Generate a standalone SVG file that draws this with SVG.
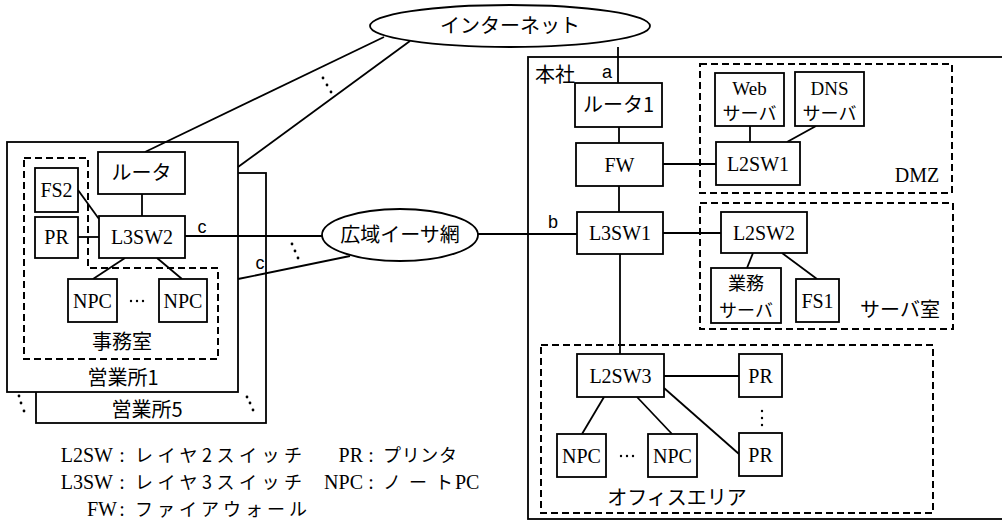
<svg xmlns="http://www.w3.org/2000/svg" width="1002" height="524" viewBox="0 0 1002 524">
<style>
.bx{fill:#fff;stroke:#000;stroke-width:1.8}
.area{fill:none;stroke:#000;stroke-width:2;stroke-dasharray:7 4}
.ln{stroke:#000;stroke-width:1.8;fill:none}
.t{font-family:"Liberation Serif","Noto Sans CJK JP",serif;font-size:20px;fill:#000;text-anchor:middle}
.j{font-family:"Noto Sans CJK JP","Liberation Serif",sans-serif;font-size:20px;fill:#000;text-anchor:middle}
.j2{font-family:"Noto Sans CJK JP","Liberation Serif",sans-serif;font-size:18px;fill:#000;text-anchor:middle}
.s{font-family:"Liberation Sans","Noto Sans CJK JP",sans-serif;font-size:18px;fill:#000;text-anchor:middle}
.lg{font-family:"Liberation Serif","Noto Sans CJK JP",serif;font-size:20px;fill:#000}
.lj{font-family:"Noto Sans CJK JP","Liberation Serif",sans-serif;font-size:18px;fill:#000}
.d{fill:#000}
</style>

<!-- sites -->
<g id="eigyo5"><rect class="bx" x="36" y="173" width="230" height="250"/><text class="j" x="147" y="417">営業所5</text></g>
<g id="eigyo1"><rect class="bx" x="7" y="142" width="231" height="250"/><text class="j" x="123" y="385">営業所1</text></g>
<g id="honsha"><rect class="bx" x="528" y="57" width="490" height="462"/><text class="j" x="555" y="82">本社</text></g>

<!-- areas -->
<g id="jimushitsu"><path class="area" d="M24,158 H88 V268 H218 V359 H24 Z"/><text class="j" x="122" y="349">事務室</text></g>
<g id="dmz"><rect class="area" x="700" y="64" width="252" height="129"/><text class="t" x="917" y="182">DMZ</text></g>
<g id="serverroom"><rect class="area" x="700" y="203" width="253" height="126"/><text class="j" x="900" y="317">サーバ室</text></g>
<g id="officearea"><rect class="area" x="541" y="345" width="392" height="168"/><text class="j" x="677" y="505">オフィスエリア</text></g>

<!-- connectors -->
<g id="connectors">
<line class="ln" x1="142" y1="194" x2="142" y2="216"/>
<line class="ln" x1="78" y1="190" x2="99" y2="219"/>
<line class="ln" x1="78" y1="237" x2="99" y2="237"/>
<line class="ln" x1="125" y1="258" x2="93" y2="279"/>
<line class="ln" x1="157" y1="258" x2="182" y2="279"/>
<line class="ln" x1="185" y1="236" x2="322" y2="236"/>
<line class="ln" x1="238" y1="279" x2="350" y2="256"/>
<line class="ln" x1="145" y1="152" x2="384" y2="37"/>
<line class="ln" x1="238" y1="167" x2="410" y2="41"/>
<line class="ln" x1="618" y1="47" x2="618" y2="83"/>
<line class="ln" x1="478" y1="234" x2="577" y2="234"/>
<line class="ln" x1="619" y1="127" x2="619" y2="143"/>
<line class="ln" x1="619" y1="186" x2="619" y2="212"/>
<line class="ln" x1="663" y1="164" x2="716" y2="164"/>
<line class="ln" x1="750" y1="126" x2="750" y2="142"/>
<line class="ln" x1="816" y1="126" x2="787" y2="142"/>
<line class="ln" x1="663" y1="233" x2="721" y2="233"/>
<line class="ln" x1="753" y1="253" x2="747" y2="268"/>
<line class="ln" x1="782" y1="253" x2="817" y2="279"/>
<line class="ln" x1="620" y1="254" x2="620" y2="354"/>
<line class="ln" x1="664" y1="376" x2="739" y2="376"/>
<line class="ln" x1="664" y1="388" x2="739" y2="454"/>
<line class="ln" x1="604" y1="397" x2="582" y2="434"/>
<line class="ln" x1="637" y1="397" x2="672" y2="434"/>
<g class="d">
<circle cx="323" cy="78" r="1.4"/><circle cx="327" cy="85" r="1.4"/><circle cx="331" cy="92" r="1.4"/>
<circle cx="292" cy="244" r="1.4"/><circle cx="295" cy="251" r="1.4"/><circle cx="298" cy="258" r="1.4"/>
<circle cx="19" cy="396" r="1.4"/><circle cx="21" cy="403" r="1.4"/><circle cx="24" cy="411" r="1.4"/>
<circle cx="247" cy="397" r="1.4"/><circle cx="250" cy="403" r="1.4"/><circle cx="253" cy="410" r="1.4"/>
<circle cx="131" cy="301" r="1.2"/><circle cx="137" cy="301" r="1.2"/><circle cx="143" cy="301" r="1.2"/>
<circle cx="621" cy="456" r="1.2"/><circle cx="627" cy="456" r="1.2"/><circle cx="633" cy="456" r="1.2"/>
<circle cx="762" cy="411" r="1.2"/><circle cx="762" cy="418" r="1.2"/><circle cx="762" cy="425" r="1.2"/>
</g>
<text class="s" x="202" y="233">c</text>
<text class="s" x="260" y="269">c</text>
<text class="s" x="607" y="78">a</text>
<text class="s" x="553" y="228">b</text>
</g>

<!-- clouds -->
<g id="internet"><ellipse class="bx" cx="510" cy="26" rx="140" ry="21"/><text class="j" x="510" y="33">インターネット</text></g>
<g id="wan"><ellipse class="bx" cx="400" cy="235" rx="78" ry="26"/><text class="j" x="400" y="242">広域イーサ網</text></g>

<!-- branch nodes -->
<g id="router"><rect class="bx" x="98" y="152" width="87" height="42"/><text class="j" x="141.5" y="180">ルータ</text></g>
<g id="fs2"><rect class="bx" x="35" y="168" width="43" height="44"/><text class="t" x="56.5" y="197">FS2</text></g>
<g id="pr-b"><rect class="bx" x="35" y="217" width="43" height="41"/><text class="t" x="56.5" y="244">PR</text></g>
<g id="l3sw2"><rect class="bx" x="99" y="216" width="86" height="42"/><text class="t" x="142" y="244">L3SW2</text></g>
<g id="npc-b1"><rect class="bx" x="68" y="279" width="49" height="43"/><text class="t" x="92.5" y="307.5">NPC</text></g>
<g id="npc-b2"><rect class="bx" x="159" y="279" width="48" height="43"/><text class="t" x="183" y="307.5">NPC</text></g>

<!-- HQ nodes -->
<g id="router1"><rect class="bx" x="575" y="83" width="87" height="44"/><text class="j" x="618.5" y="112">ルータ1</text></g>
<g id="fw"><rect class="bx" x="576" y="143" width="87" height="43"/><text class="t" x="619.5" y="171.5">FW</text></g>
<g id="l3sw1"><rect class="bx" x="577" y="212" width="86" height="42"/><text class="t" x="620" y="240">L3SW1</text></g>
<g id="web"><rect class="bx" x="715" y="73" width="69" height="53"/><text class="t" x="749.5" y="95" style="font-size:19px">Web</text><text class="j2" x="749.5" y="120">サーバ</text></g>
<g id="dns"><rect class="bx" x="795" y="72" width="69" height="54"/><text class="t" x="829.5" y="95" style="font-size:19px">DNS</text><text class="j2" x="829.5" y="120">サーバ</text></g>
<g id="l2sw1"><rect class="bx" x="716" y="142" width="84" height="43"/><text class="t" x="758" y="170.5">L2SW1</text></g>
<g id="l2sw2"><rect class="bx" x="721" y="212" width="86" height="41"/><text class="t" x="764" y="239.5">L2SW2</text></g>
<g id="gyomu"><rect class="bx" x="711" y="268" width="70" height="55"/><text class="j2" x="746" y="290">業務</text><text class="j2" x="746" y="317">サーバ</text></g>
<g id="fs1"><rect class="bx" x="796" y="279" width="43" height="43"/><text class="t" x="817.5" y="307.5">FS1</text></g>
<g id="l2sw3"><rect class="bx" x="577" y="354" width="87" height="43"/><text class="t" x="620.5" y="382.5">L2SW3</text></g>
<g id="pr1"><rect class="bx" x="739" y="354" width="43" height="43"/><text class="t" x="760.5" y="382.5">PR</text></g>
<g id="pr2"><rect class="bx" x="739" y="433" width="43" height="43"/><text class="t" x="760.5" y="461.5">PR</text></g>
<g id="npc1"><rect class="bx" x="557" y="434" width="49" height="43"/><text class="t" x="581.5" y="462.5">NPC</text></g>
<g id="npc2"><rect class="bx" x="648" y="434" width="49" height="43"/><text class="t" x="672.5" y="462.5">NPC</text></g>

<!-- legend -->
<g id="legend">
<text class="lg" x="113" y="462" text-anchor="end">L2SW</text><text class="lg" x="122" y="462" text-anchor="middle">:</text><text class="lj" x="135" y="462" textLength="167" lengthAdjust="spacing">レイヤ2スイッチ</text>
<text class="lg" x="113" y="489" text-anchor="end">L3SW</text><text class="lg" x="122" y="489" text-anchor="middle">:</text><text class="lj" x="135" y="489" textLength="167" lengthAdjust="spacing">レイヤ3スイッチ</text>
<text class="lg" x="117" y="516" text-anchor="end">FW</text><text class="lg" x="122" y="516" text-anchor="middle">:</text><text class="lj" x="135" y="516" textLength="172" lengthAdjust="spacing">ファイアウォール</text>
<text class="lg" x="363" y="462" text-anchor="end">PR</text><text class="lg" x="371" y="462" text-anchor="middle">:</text><text class="lj" x="383" y="462" textLength="74" lengthAdjust="spacing">プリンタ</text>
<text class="lg" x="363" y="489" text-anchor="end">NPC</text><text class="lg" x="371" y="489" text-anchor="middle">:</text><text class="lj" x="383" y="489" textLength="70" lengthAdjust="spacing">ノート</text><text class="lg" x="455" y="489">PC</text>
</g>
</svg>
